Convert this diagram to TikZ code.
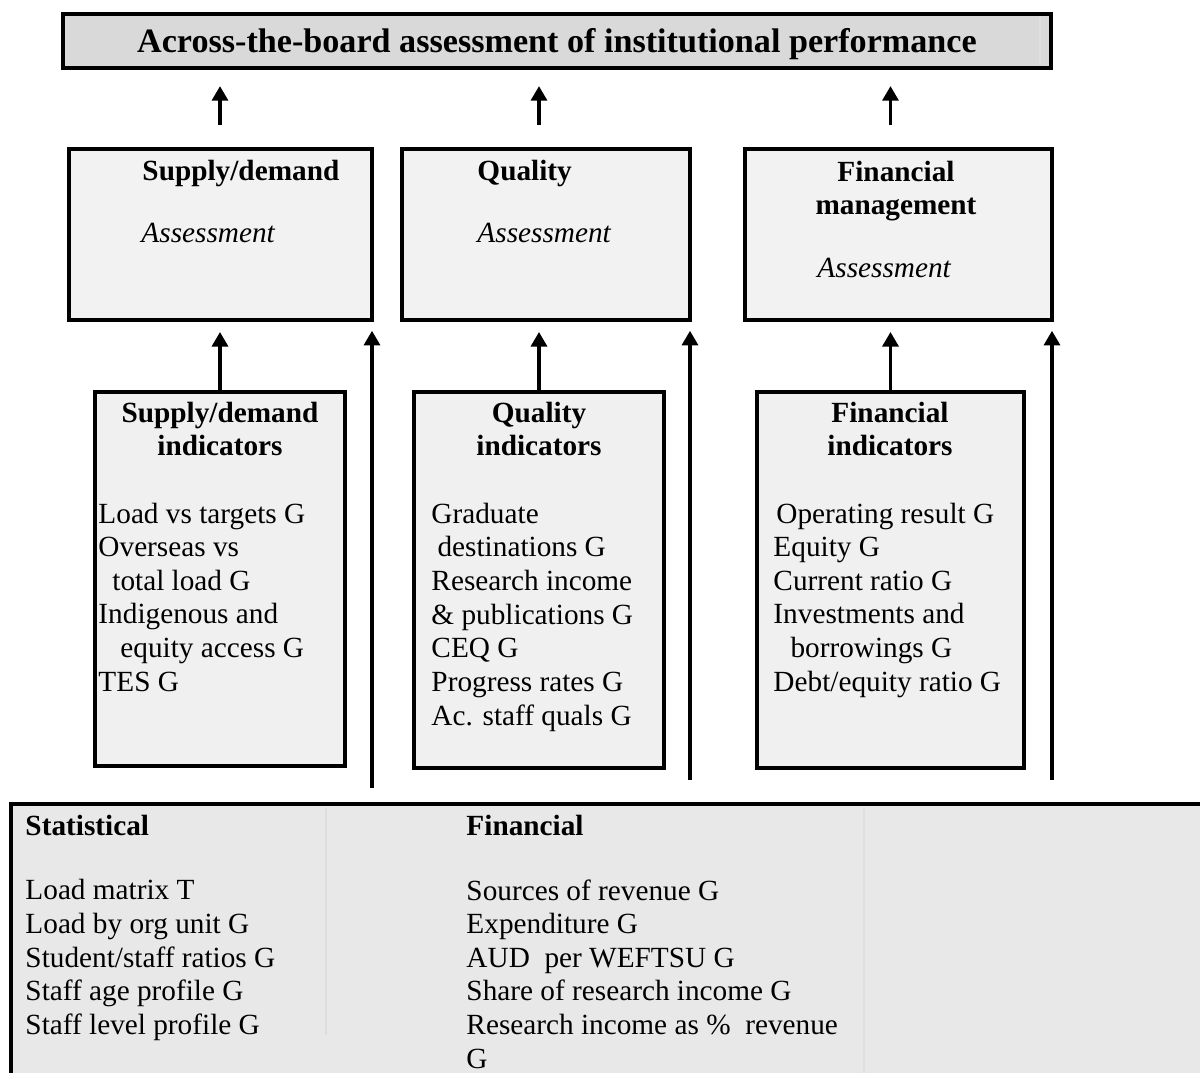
\documentclass[tikz,border=0pt]{standalone}
\usepackage{fontspec}
\setmainfont{Liberation Serif}
\usetikzlibrary{fit,arrows.meta}
\definecolor{bannerfill}{RGB}{217,217,217}
\definecolor{boxfill}{RGB}{242,242,242}
\definecolor{indfill}{RGB}{240,240,240}
\definecolor{datafill}{RGB}{232,232,232}
\definecolor{seam}{RGB}{222,222,222}

\begin{document}
\begin{tikzpicture}[
            x=0.41pt, y=-0.41pt,
            outline/.style={rectangle, draw=black, line width=1.8pt, inner sep=0pt},
            banner/.style={outline, fill=bannerfill},
            assessbox/.style={outline, fill=boxfill},
            indbox/.style={outline, fill=indfill},
            databox/.style={outline, fill=datafill},
            heading/.style={font=\fontsize{12}{13.8}\selectfont\bfseries, align=center, inner sep=0pt, anchor=base},
            assesstext/.style={font=\fontsize{12}{13.8}\selectfont\itshape, inner sep=0pt, anchor=base west},
            items/.style={font=\fontsize{12}{13.8}\selectfont, align=left, inner sep=0pt, anchor=base west},
            uparrow/.style={-{Triangle[length=6pt,width=6.5pt]}, line width=1.6pt},
        ]
            \clip (0,0) rectangle (1200,1073);

            % top banner
            \node [banner, fit={(63,14) (1051,68)}] (top) {};
            \node [font=\fontsize{14}{16}\selectfont\bfseries, inner sep=0pt, anchor=base] (toptext) at (557,52) {Across-the-board assessment of institutional performance};
            \draw [seam, line width=0.5pt] (1040,16) -- (1040,66);

            % assessment boxes
            \node [assessbox, fit={(69,149) (372,320)}] (sdA) {};
            \node [assessbox, fit={(402,149) (690,320)}] (qA) {};
            \node [assessbox, fit={(745,149) (1052,320)}] (fmA) {};

            % multi-line nodes sit on the baseline of their last line
            \node [heading, anchor=base west] (sdAhead) at (142,180) {Supply/demand};
            \node [assesstext] (sdAtext) at (141,242) {Assessment};
            \node [heading, anchor=base west] (qAhead) at (477,180) {Quality};
            \node [assesstext] (qAtext) at (477,242) {Assessment};
            \node [heading] (fmAhead) at (896,214.7) {Financial\\management};
            \node [assesstext] (fmAtext) at (817,277) {Assessment};

            % indicator boxes
            \node [indbox, fit={(95,392) (345,766)}] (sdI) {};
            \node [indbox, fit={(414,392) (664,768)}] (qI) {};
            \node [indbox, fit={(757,392) (1024,768)}] (fmI) {};

            \node [heading] (sdIhead) at (220,455.7) {Supply/demand\\indicators};
            \node [heading] (qIhead) at (539,455.7) {Quality\\indicators};
            \node [heading] (fmIhead) at (890,455.7) {Financial\\indicators};

            \node [items] (sdIlist) at (98,691.3) {Load vs targets G\\Overseas vs\\\hspace*{5.7pt}total load G\\Indigenous and\\\hspace*{9pt}equity access G\\TES G};
            \node [items] (qIlist) at (431,725) {Graduate\\\hspace*{2.5pt}destinations G\\Research income\\\& publications G\\CEQ G\\Progress rates G\\Ac. staff quals G};
            \node [items] (fmIlist) at (773,691.3) {\hspace*{1.2pt}Operating result G\\Equity G\\Current ratio G\\Investments and\\\hspace*{7pt}borrowings G\\Debt/equity ratio G};

            % source data box
            \node [databox, fit={(11,804) (1230,1110)}] (data) {};
            \draw [seam, line width=0.5pt] (326,808) -- (326,1035);
            \draw [seam, line width=0.5pt] (864,808) -- (864,1073);
            \node [heading, anchor=base west] (stathead) at (25,835) {Statistical};
            \node [items] (statlist) at (25,1034.6) {Load matrix T\\Load by org unit G\\Student/staff ratios G\\Staff age profile G\\Staff level profile G};
            \node [heading, anchor=base west] (finhead) at (466,835) {Financial};
            \node [items] (finlist) at (466,1068.3) {Sources of revenue G\\Expenditure G\\AUD\ \ per WEFTSU G\\Share of research income G\\Research income as \%\ \ revenue\\G};

            % arrows up to the banner
            \draw [uparrow, shorten <=9pt, shorten >=6.5pt] (sdI.north |- sdA.north) -- (sdI.north |- top.south);
            \draw [uparrow, shorten <=9pt, shorten >=6.5pt] (qI.north |- qA.north) -- (qI.north |- top.south);
            \draw [uparrow, shorten <=9pt, shorten >=6.5pt] (fmI.north |- fmA.north) -- (fmI.north |- top.south);

            % indicators to assessment
            \draw [uparrow, shorten >=4pt] (sdI.north) -- (sdI.north |- sdA.south);
            \draw [uparrow, shorten >=4pt] (qI.north) -- (qI.north |- qA.south);
            \draw [uparrow, shorten >=4pt] (fmI.north) -- (fmI.north |- fmA.south);

            % data to assessment
            \coordinate (sdFeed) at (372,788);
            \coordinate (qFeed) at (690,780);
            \coordinate (fmFeed) at (1052,780);
            \draw [uparrow, shorten >=3.5pt] (sdFeed) -- (sdFeed |- sdA.south);
            \draw [uparrow, shorten >=3.5pt] (qFeed) -- (qFeed |- qA.south);
            \draw [uparrow, shorten >=3.5pt] (fmFeed) -- (fmFeed |- fmA.south);

        \end{tikzpicture}
\end{document}
